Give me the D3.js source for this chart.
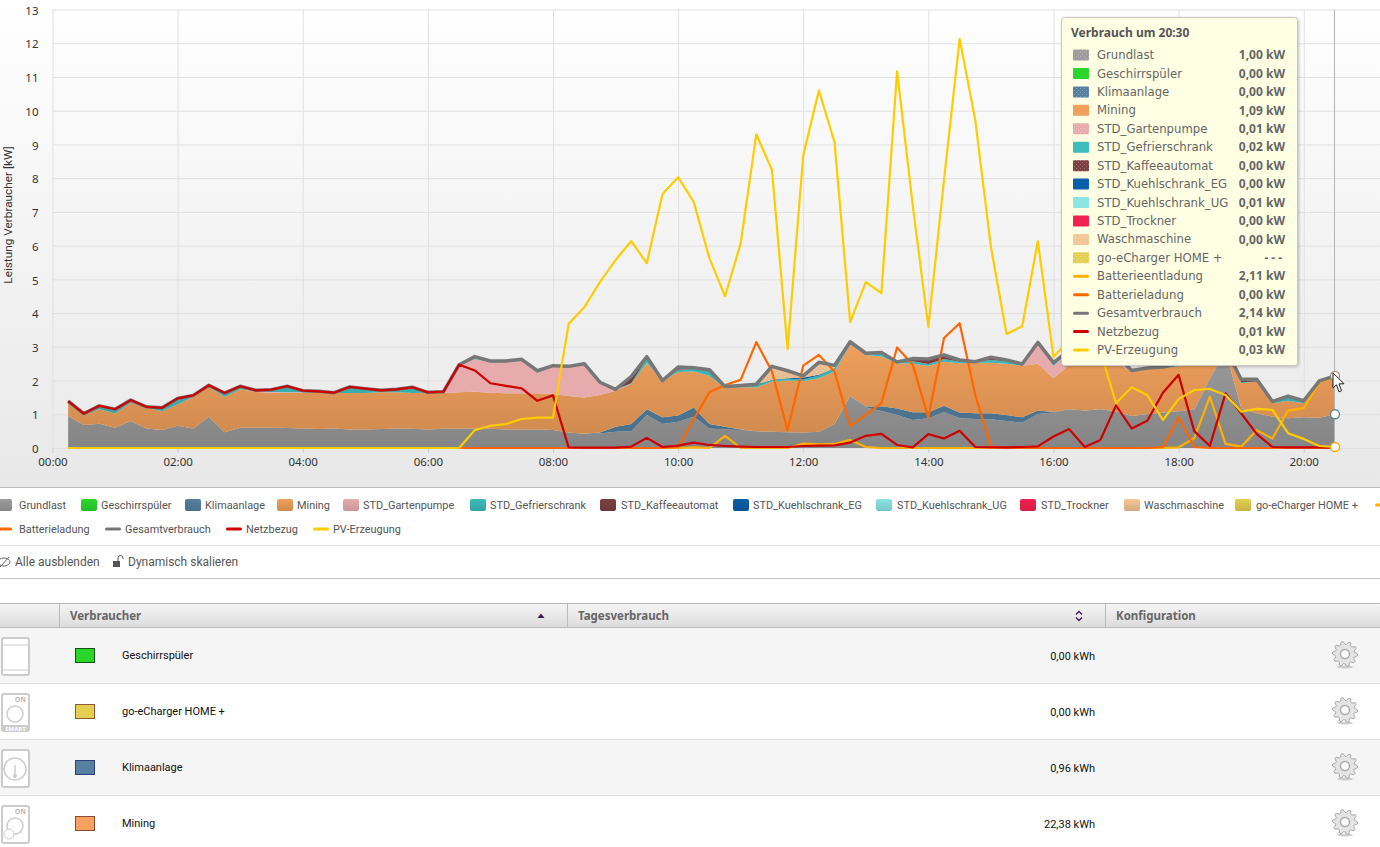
<!DOCTYPE html>
<html>
<head>
<meta charset="utf-8">
<title>Verbrauch</title>
<script src="https://cdn.jsdelivr.net/npm/d3@7"></script>
<style>
  html, body { margin: 0; padding: 0; background: #fff; overflow: hidden; }
  svg { display: block; }
  .ui { font-family: "Noto Sans", sans-serif; }
  .narrow { font-family: Roboto, sans-serif; }
  .tip { font-family: "DejaVu Sans", sans-serif; font-size: 11.7px; fill: #666; }
  .tip .strong { font-family: "Noto Sans", sans-serif; font-weight: bold; }
  .axis text { font-family: "Noto Sans", sans-serif; font-size: 11.5px; fill: #333; }
  .grid line { stroke: #e0e0e0; }
  .grid path { display: none; }
</style>
</head>
<body>
<div id="chart"></div>
<script>
// sample times, every quarter of an hour
const times = [
  "00:15","00:30","00:45","01:00","01:15","01:30","01:45","02:00","02:15","02:30",
  "02:45","03:00","03:15","03:30","03:45","04:00","04:15","04:30","04:45","05:00",
  "05:15","05:30","05:45","06:00","06:15","06:30","06:45","07:00","07:15","07:30",
  "07:45","08:00","08:15","08:30","08:45","09:00","09:15","09:30","09:45","10:00",
  "10:15","10:30","10:45","11:00","11:15","11:30","11:45","12:00","12:15","12:30",
  "12:45","13:00","13:15","13:30","13:45","14:00","14:15","14:30","14:45","15:00",
  "15:15","15:30","15:45","16:00","16:15","16:30","16:45","17:00","17:15","17:30",
  "17:45","18:00","18:15","18:30","18:45","19:00","19:15","19:30","19:45","20:00",
  "20:15","20:30"
];
const xTickLabels = ["00:00","02:00","04:00","06:00","08:00","10:00","12:00","14:00","16:00","18:00","20:00"];
const yTickValues = [0,1,2,3,4,5,6,7,8,9,10,11,12,13];

// stacked consumers, kW
const grundlast = [
  .95,.68,.72,.60,.80,.58,.53,.66,.58,.93,
  .47,.60,.60,.60,.59,.58,.56,.58,.55,.55,
  .56,.58,.57,.55,.57,.58,.58,.57,.55,.55,
  .55,.53,.46,.42,.43,.48,.50,.98,.71,.78,
  .93,.58,.55,.53,.50,.48,.47,.46,.48,.71,
  1.54,1.20,1.10,.98,.83,.88,1.07,.88,.86,.85,
  .80,.75,1.01,1.05,1.15,1.11,1.15,1.08,.95,1.01,
  1.05,1.09,1.11,2.03,2.90,1.18,1.03,.93,.88,.91,
  .90,1.00
];
const geschirrspueler = [
  0,0,0,0,0,0,0,0,0,0, 0,0,0,0,0,0,0,0,0,0, 0,0,0,0,0,0,0,0,0,0, 0,0,0,0,0,0,0,0,0,0,
  0,0,0,0,0,0,0,0,0,0, 0,0,0,0,0,0,0,0,0,0, 0,0,0,0,0,0,0,0,0,0, 0,0,0,0,0,0,0,0,0,0, 0,0
];
const klimaanlage = [
  0,0,0,0,0,0,0,0,0,0, 0,0,0,0,0,0,0,0,0,0, 0,0,0,0,0,0,0,0,0,0,
  0,0,0,0,.03,.15,.21,.17,.20,.18,
  .27,.13,.08,.02,0,0,0,0,0,0,
  0,.03,.14,.19,.23,.18,.18,.17,.17,.18,
  .18,.16,.10,.02,0,0,0,0,0,0,
  0,0,.03,.03,0,0,0,0,0,0,
  0,0
];
const mining = [
  .37,.29,.43,.42,.54,.61,.56,.64,.93,.88,
  1.04,1.14,1.06,1.04,1.04,1.05,1.07,1.05,1.08,1.08,
  1.09,1.07,1.06,1.09,1.06,1.07,1.09,1.07,1.07,1.07,
  1.07,1.07,1.08,1.08,1.11,1.07,1.19,1.38,1.08,1.29,
  1.07,1.43,1.14,1.25,1.30,1.49,1.53,1.53,1.59,1.56,
  1.52,1.53,1.47,1.34,1.44,1.38,1.31,1.46,1.50,1.50,
  1.52,1.53,1.39,1.00,1.32,1.39,1.40,1.47,1.30,1.34,
  1.32,1.33,1.42,.64,.02,.74,.94,.40,.52,.42,
  1.07,1.09
];
const gartenpumpe = [
  0,0,0,0,0,0,0,0,0,0,
  0,0,.02,.02,.02,.02,0,0,0,0,
  0,0,0,0,0,.78,.97,.90,.93,.96,
  .61,.82,.86,.97,.36,.02,0,0,0,0,
  0,0,0,0,0,0,0,0,0,0,
  0,0,0,0,0,0,0,0,0,0,
  0,0,.60,.36,.38,.10,.10,.10,0,0,
  0,0,0,0,0,0,0,0,0,0,
  0,.01
];
const gefrierschrank = [
  .07,.05,.10,.13,.08,.03,.10,.17,.05,.05,
  .12,.09,.03,.07,.18,.05,.05,.01,.18,.13,
  .06,.10,.17,.01,.04,.04,.07,.04,.03,.05,
  .06,.02,.02,.03,.02,.02,.02,.13,.01,.07,
  .07,.12,.05,.03,.07,.05,.05,.05,.08,.10,
  .07,.05,.12,.04,.07,.05,.08,.05,.03,.08,
  .07,.05,.03,.10,.05,.10,.10,.10,.05,.02,
  .03,.08,.04,.05,.03,.03,0,.05,.12,.07,
  .02,.02
];
const kaffeeautomat = [
  0,0,0,0,0,0,0,0,0,0, 0,0,0,0,0,0,0,0,0,0, 0,0,0,0,0,0,0,0,0,0,
  0,0,0,0,0,0,.20,.05,0,.08,
  .04,0,0,0,0,0,0,0,0,0,
  0,0,0,0,.08,.15,.07,0,0,.08,
  .04,0,0,0,0,0,0,0,0,0,
  0,0,0,0,0,.09,.07,0,0,0,
  0,0
];
const kuehlschrankEG = [
  0,0,0,0,0,0,0,0,0,0, 0,0,0,0,0,0,0,0,0,0, 0,0,0,0,0,0,0,0,0,0, 0,0,0,0,0,0,0,0,0,0,
  0,.06,0,.02,.02,0,.02,.05,.02,0,
  0,0,0,0,0,0,.05,.05,0,0,
  0,0,0,0,0,0,0,0,0,0,
  0,0,0,0,0,0,0,0,.02,0,
  0,0
];
const kuehlschrankUG = [
  0,0,0,0,0,0,0,0,0,0, 0,0,0,0,0,0,0,0,0,0, 0,0,0,0,0,0,0,0,0,0, 0,0,0,0,0,0,0,0,0,0,
  0,0,0,0,0,0,0,0,0,0, 0,0,0,0,0,0,0,0,0,0, 0,0,0,0,0,0,0,0,0,0, 0,0,0,0,0,0,0,0,0,0, 0,.01
];
const trockner = [
  0,0,0,0,0,0,0,0,0,0, 0,0,0,0,0,0,0,0,0,0, 0,0,0,0,0,0,0,0,0,0, 0,0,0,0,0,0,0,0,0,0,
  0,0,0,0,0,0,0,0,0,0, 0,0,0,0,0,0,0,0,0,0, 0,0,0,0,0,0,0,0,0,0, 0,0,0,0,0,0,0,0,0,0, 0,0
];
const waschmaschine = [
  0,0,0,0,0,0,0,0,0,0, 0,0,0,0,0,0,0,0,0,0, 0,0,0,0,0,0,0,0,0,0, 0,0,0,0,0,0,0,0,0,0,
  0,0,0,0,0,.40,.22,.05,.37,.08,
  .02,0,0,0,0,0,0,0,0,0,
  0,0,0,0,0,0,0,0,0,0, 0,0,0,0,0,0,0,0,0,0, 0,0
];
const goECharger = [
  0,0,0,0,0,0,0,0,0,0, 0,0,0,0,0,0,0,0,0,0, 0,0,0,0,0,0,0,0,0,0, 0,0,0,0,0,0,0,0,0,0,
  0,0,0,0,0,0,0,0,0,0, 0,0,0,0,0,0,0,0,0,0, 0,0,0,0,0,0,0,0,0,0, 0,0,0,0,0,0,0,0,0,0, 0,0
];

// line series, kW
const batterieentladung = [
  0,0,0,0,0,0,0,0,0,0, 0,0,0,0,0,0,0,0,0,0, 0,0,0,0,0,0,0,0,0,0, 0,0,0,0,0,0,0,0,0,0,
  .02,0,.36,0,0,0,0,.13,.11,.12,
  .24,.03,0,0,0,0,0,0,0,0,
  0,0,0,0,0,0,0,0,0,0,
  0,.02,.29,1.52,.12,.04,.53,.28,1.11,1.18,
  1.96,2.11
];
const batterieladung = [
  0,0,0,0,0,0,0,0,0,0, 0,0,0,0,0,0,0,0,0,0, 0,0,0,0,0,0,0,0,0,0, 0,0,0,0,0,0,0,0,0,.03,
  .85,1.65,1.87,2.02,3.14,2.27,.53,2.44,2.76,2.27,
  .65,.98,1.33,2.98,2.47,.90,3.26,3.70,1.57,.04,
  0,0,0,0,0,0,0,0,0,0,
  .03,.91,.03,0,0,0,0,0,0,0,
  0,0
];
const gesamtverbrauch = [
  1.39,1.02,1.25,1.15,1.42,1.22,1.19,1.47,1.56,1.86,
  1.63,1.83,1.71,1.73,1.83,1.70,1.68,1.64,1.81,1.76,
  1.71,1.74,1.80,1.65,1.67,2.47,2.71,2.58,2.58,2.63,
  2.29,2.44,2.42,2.50,1.95,1.74,2.12,2.71,2.00,2.40,
  2.38,2.32,1.82,1.85,1.89,2.42,2.29,2.14,2.54,2.45,
  3.15,2.81,2.83,2.55,2.65,2.64,2.76,2.61,2.56,2.69,
  2.61,2.49,3.13,2.53,2.90,2.70,2.75,2.75,2.30,2.37,
  2.40,2.50,2.60,2.75,2.95,2.04,2.04,1.38,1.54,1.40,
  1.99,2.14
];
const netzbezug = [
  1.39,1.02,1.25,1.15,1.42,1.22,1.19,1.47,1.56,1.86,
  1.63,1.83,1.71,1.73,1.83,1.70,1.68,1.64,1.81,1.76,
  1.71,1.74,1.80,1.65,1.67,2.47,2.30,1.92,1.84,1.77,
  1.40,1.56,.02,.01,.01,.01,.04,.30,.03,.07,
  .16,.09,.06,.04,.03,.03,.03,.06,.07,.08,
  .16,.36,.42,.09,.02,.41,.28,.51,.03,.02,
  .02,.03,.05,.34,.56,.03,.24,1.26,.58,.81,
  1.64,2.17,.50,.06,1.62,1.03,.41,.03,.02,.02,
  .02,.01
];
const pvErzeugung = [
  0,0,0,0,0,0,0,0,0,0, 0,0,0,0,0,0,0,0,0,0,
  0,0,0,0,0,0,.53,.66,.71,.86,
  .90,.90,3.68,4.17,4.92,5.57,6.13,5.48,7.53,8.03,
  7.29,5.63,4.50,6.07,9.30,8.24,2.93,8.68,10.60,9.07,
  3.73,4.92,4.59,11.17,7.20,3.59,7.94,12.13,9.72,5.96,
  3.38,3.61,6.13,2.70,3.20,3.50,2.88,1.33,1.80,1.57,
  .83,1.45,1.72,1.75,1.57,1.08,1.16,1.13,.44,.27,
  .06,.03
];

const areaNames = ["Grundlast","Geschirrspüler","Klimaanlage","Mining","STD_Gartenpumpe","STD_Gefrierschrank","STD_Kaffeeautomat","STD_Kuehlschrank_EG","STD_Kuehlschrank_UG","STD_Trockner","Waschmaschine","go-eCharger HOME +"];
const areaValues = [grundlast,geschirrspueler,klimaanlage,mining,gartenpumpe,gefrierschrank,kaffeeautomat,kuehlschrankEG,kuehlschrankUG,trockner,waschmaschine,goECharger];
const areaColors = ["#9c9c9c","#2bd62b","#56809f","#f0a05c","#e8abad","#3cbcbc","#7e3f42","#0b5ea8","#8ce4e4","#f2214f","#f6c594","#e5cf50"];
const lineNames = ["Batterieentladung","Batterieladung","Gesamtverbrauch","Netzbezug","PV-Erzeugung"];
const lineValues = [batterieentladung,batterieladung,gesamtverbrauch,netzbezug,pvErzeugung];
const lineColors = ["#ffb000","#ff6600","#777777","#cc0000","#ffcc00"];

const tooltipTitle = "Verbrauch um 20:30";
const tooltipValues = ["1,00 kW","0,00 kW","0,00 kW","1,09 kW","0,01 kW","0,02 kW","0,00 kW","0,00 kW","0,01 kW","0,00 kW","0,00 kW","---","2,11 kW","0,00 kW","2,14 kW","0,01 kW","0,03 kW"];

const tableNames = ["Geschirrspüler","go-eCharger HOME +","Klimaanlage","Mining"];
const tableValues = ["0,00 kWh","0,00 kWh","0,96 kWh","22,38 kWh"];
const tableFills = ["#2bd62b","#e5cf50","#56809f","#f6a25e"];
const tableBorders = ["#145214","#8a5a3a","#2a3f80","#8a4a3a"];
const tableHeaders = ["Verbraucher","Tagesverbrauch","Konfiguration"];

const WIDTH = 1380, HEIGHT = 847;
const MARGIN = { LEFT: 52.5, TOP: 9.5, BOTTOM: 399 };
const plotHeight = HEIGHT - MARGIN.TOP - MARGIN.BOTTOM;

const svg = d3.select("#chart").append("svg")
  .attr("width", WIDTH).attr("height", HEIGHT)
  .attr("viewBox", `0 0 ${WIDTH} ${HEIGHT}`);
const defs = svg.append("defs");

const toMinutes = (s) => +s.slice(0, 2) * 60 + +s.slice(3);
const x = d3.scaleLinear().domain([0, 1230]).range([MARGIN.LEFT, 1335]);
const y = d3.scaleLinear().domain([0, 13]).range([MARGIN.TOP + plotHeight, MARGIN.TOP]);

// chart background
const bgGrad = defs.append("linearGradient").attr("id", "bg").attr("x2", 0).attr("y2", 1);
bgGrad.append("stop").attr("offset", 0).attr("stop-color", "#ffffff");
bgGrad.append("stop").attr("offset", 1).attr("stop-color", "#e8e8e8");
svg.append("rect").attr("width", WIDTH).attr("height", 487).attr("fill", "url(#bg)");
svg.append("line").attr("x1", 0).attr("x2", WIDTH).attr("y1", 487.5).attr("y2", 487.5).attr("stroke", "#bbb");

// speckle used by some of the series
const dots = defs.append("pattern").attr("id", "dots")
  .attr("patternUnits", "userSpaceOnUse").attr("width", 4).attr("height", 4);
dots.append("rect").attr("width", 1).attr("height", 1).attr("fill", "#fff").attr("fill-opacity", 0.25);
dots.append("rect").attr("x", 2).attr("y", 2).attr("width", 1).attr("height", 1).attr("fill", "#fff").attr("fill-opacity", 0.25);
const dottedSeries = ["Grundlast","Klimaanlage","STD_Gartenpumpe","STD_Kaffeeautomat","Waschmaschine","go-eCharger HOME +"];

// gridlines and axes
const g = svg.append("g");
const xTicks = xTickLabels.map(toMinutes);
g.append("g").attr("class", "grid")
  .attr("transform", `translate(0,${y(0)})`)
  .call(d3.axisBottom(x).tickValues(xTicks).tickSize(-plotHeight).tickFormat(""));
g.append("g").attr("class", "grid")
  .attr("transform", `translate(${MARGIN.LEFT},0)`)
  .call(d3.axisLeft(y).tickValues(yTickValues).tickSize(-(WIDTH - MARGIN.LEFT)).tickFormat(""));

const xAxis = g.append("g").attr("class", "axis")
  .attr("transform", `translate(0,${y(0)})`)
  .call(d3.axisBottom(x).tickValues(xTicks).tickSize(5).tickPadding(5).tickFormat((d, i) => xTickLabels[i]));
xAxis.select(".domain").remove();
xAxis.selectAll("line").attr("stroke", "#c0d0e0");

const yAxis = g.append("g").attr("class", "axis")
  .attr("transform", `translate(${MARGIN.LEFT},1)`)
  .call(d3.axisLeft(y).tickValues(yTickValues).tickSize(0).tickPadding(14));
yAxis.select(".domain").remove();

svg.append("text").attr("class", "narrow")
  .attr("transform", "translate(12,215) rotate(-90)")
  .attr("text-anchor", "middle").attr("font-size", 11.8).attr("fill", "#333")
  .text("Leistung Verbraucher [kW]");

// stacked areas
const rows = times.map((t, i) => {
  const row = { minute: toMinutes(t) };
  areaNames.forEach((n, k) => { row[n] = areaValues[k][i]; });
  return row;
});
const stacked = d3.stack().keys(areaNames)(rows);
const area = d3.area()
  .x((d) => x(d.data.minute))
  .y0((d) => y(d[0]))
  .y1((d) => y(d[1]));

areaColors.forEach((c, i) => {
  const grad = defs.append("linearGradient").attr("id", `fill${i}`)
    .attr("gradientUnits", "userSpaceOnUse")
    .attr("x1", 0).attr("x2", 0).attr("y1", y(3.2)).attr("y2", y(0));
  grad.append("stop").attr("offset", 0).attr("stop-color", c);
  grad.append("stop").attr("offset", 1).attr("stop-color", d3.color(c).darker(0.45));
  const swatch = defs.append("linearGradient").attr("id", `swatch${i}`).attr("x2", 0).attr("y2", 1);
  swatch.append("stop").attr("offset", 0).attr("stop-color", c);
  swatch.append("stop").attr("offset", 1).attr("stop-color", d3.color(c).darker(0.4));
});

const drawnAreas = stacked.filter((s, i) => d3.sum(areaValues[i]) > 0);
g.append("g").selectAll("path")
  .data(drawnAreas)
  .enter().append("path")
  .attr("d", area)
  .attr("fill", (s) => (s.key === "STD_Gartenpumpe" ? areaColors[s.index] : `url(#fill${s.index})`));
g.append("g").selectAll("path")
  .data(drawnAreas.filter((s) => s.key === "Waschmaschine"))
  .enter().append("path")
  .attr("d", area)
  .attr("fill", "url(#dots)");

// lines on top of the areas
const line = d3.line().x((d, i) => x(toMinutes(times[i]))).y((d) => y(d));
g.append("g").attr("fill", "none").selectAll("path")
  .data(lineValues)
  .enter().append("path")
  .attr("d", line)
  .attr("stroke", (d, i) => lineColors[i])
  .attr("stroke-width", (d, i) => (i === 2 ? 3.5 : 2.2))
  .attr("stroke-linejoin", "round");

// crosshair at the last sample with its markers
const lastMinute = toMinutes(times[times.length - 1]);
const last = times.length - 1;
g.append("line")
  .attr("x1", x(lastMinute) - 0.5).attr("x2", x(lastMinute) - 0.5)
  .attr("y1", y(13)).attr("y2", y(0))
  .attr("stroke", "#b4b4b4");
const markers = [
  { v: gesamtverbrauch[last], c: "#a08878" },
  { v: grundlast[last], c: "#5a8090" },
  { v: pvErzeugung[last], c: "#ffa500" },
];
g.append("g").selectAll("circle").data(markers).enter().append("circle")
  .attr("cx", x(lastMinute)).attr("cy", (d) => y(d.v)).attr("r", 4.5)
  .attr("fill", "#fff").attr("stroke", (d) => d.c).attr("stroke-width", 1.3);

// mouse pointer
g.append("path")
  .attr("transform", `translate(${x(lastMinute) - 2},${y(gesamtverbrauch[last]) - 3})`)
  .attr("d", "M0,0 L0,15 L3.5,12 L6,19 L8.5,18 L6,11 L11,11 Z")
  .attr("fill", "#fff").attr("stroke", "#222").attr("stroke-width", 1);

// legend below the chart
const legendSlots = [
  { x: -4, tx: 19, row: 0 }, { x: 81, tx: 101, row: 0 }, { x: 185, tx: 205, row: 0 }, { x: 277, tx: 297, row: 0 },
  { x: 343, tx: 363, row: 0 }, { x: 470, tx: 490, row: 0 }, { x: 600, tx: 621, row: 0 }, { x: 733, tx: 753, row: 0 },
  { x: 876, tx: 897, row: 0 }, { x: 1020, tx: 1041, row: 0 }, { x: 1124, tx: 1144, row: 0 }, { x: 1235, tx: 1256, row: 0 },
];
const lineSlots = [
  { x: 1375, tx: null, row: 0 }, { x: -4, tx: 19, row: 1 }, { x: 105, tx: 125, row: 1 }, { x: 226, tx: 246, row: 1 }, { x: 313, tx: 333, row: 1 },
];
const legendY = [505, 529];
const legend = svg.append("g").attr("class", "narrow").attr("font-size", 10.9).attr("fill", "#555");
areaNames.forEach((n, i) => {
  const s = legendSlots[i];
  legend.append("rect").attr("x", s.x).attr("y", legendY[s.row] - 6).attr("width", 16).attr("height", 12)
    .attr("rx", 2).attr("fill", `url(#swatch${i})`);
  legend.append("text").attr("x", s.tx).attr("y", legendY[s.row]).attr("dy", "0.35em").text(n);
});
lineNames.forEach((n, i) => {
  const s = lineSlots[i];
  legend.append("rect").attr("x", s.x).attr("y", legendY[s.row] - 1.5).attr("width", 16).attr("height", 3)
    .attr("rx", 1.5).attr("fill", lineColors[i]);
  // the first line entry runs off the right edge of the page, only its key shows
  if (s.tx !== null) {
    legend.append("text").attr("x", s.tx).attr("y", legendY[s.row]).attr("dy", "0.35em").text(n);
  }
});

// tooltip
const tipShadow = defs.append("filter").attr("id", "tipShadow");
tipShadow.append("feDropShadow").attr("dx", 1).attr("dy", 1).attr("stdDeviation", 1.5).attr("flood-color", "#000").attr("flood-opacity", 0.25);
const tip = svg.append("g").attr("class", "tip");
tip.append("rect").attr("x", 1061.5).attr("y", 17.5).attr("width", 236).attr("height", 348)
  .attr("rx", 3).attr("fill", "#ffffe3").attr("stroke", "#c8c8c8").attr("filter", "url(#tipShadow)");
tip.append("text").attr("class", "strong").attr("x", 1071).attr("y", 33).attr("dy", "0.35em")
  .attr("font-size", 12).attr("fill", "#555").text(tooltipTitle);
const tipNames = areaNames.concat(lineNames);
const tipColors = areaColors.concat(lineColors);
const tipY = d3.scaleLinear().domain([0, 16]).range([55, 350]);
tipNames.forEach((n, i) => {
  const isArea = i < areaNames.length;
  tip.append("rect").attr("x", 1073).attr("y", tipY(i) - (isArea ? 5.5 : 1.5))
    .attr("width", 16).attr("height", isArea ? 11 : 3).attr("rx", isArea ? 1 : 1.5)
    .attr("fill", tipColors[i]);
  if (dottedSeries.includes(n)) {
    tip.append("rect").attr("x", 1073).attr("y", tipY(i) - 5.5)
      .attr("width", 16).attr("height", 11).attr("fill", "url(#dots)");
  }
  tip.append("text").attr("x", 1097).attr("y", tipY(i)).attr("dy", "0.35em").text(n);
  tip.append("text").attr("class", "strong").attr("x", 1285).attr("y", tipY(i)).attr("dy", "0.35em")
    .attr("text-anchor", "end").attr("font-size", 12)
    .attr("letter-spacing", tooltipValues[i] === "---" ? 3 : 0)
    .text(tooltipValues[i]);
});

// controls row
svg.append("line").attr("x1", 0).attr("x2", WIDTH).attr("y1", 545.5).attr("y2", 545.5).attr("stroke", "#ddd");
svg.append("line").attr("x1", 0).attr("x2", WIDTH).attr("y1", 578.5).attr("y2", 578.5).attr("stroke", "#c4c4c4");
const controls = svg.append("g").attr("class", "narrow").attr("font-size", 12).attr("fill", "#555");
controls.append("text").attr("x", 15).attr("y", 562).attr("dy", "0.35em").text("Alle ausblenden");
controls.append("text").attr("x", 128).attr("y", 562).attr("dy", "0.35em").text("Dynamisch skalieren");
controls.append("ellipse").attr("cx", 4).attr("cy", 562).attr("rx", 6).attr("ry", 4)
  .attr("fill", "none").attr("stroke", "#666");
controls.append("line").attr("x1", 0).attr("y1", 567).attr("x2", 9).attr("y2", 557).attr("stroke", "#666");
controls.append("rect").attr("x", 113).attr("y", 561).attr("width", 7).attr("height", 6).attr("fill", "#555");
controls.append("path").attr("d", "M118,561 v-3 a2.5,2.5 0 0 1 5,0 v1").attr("fill", "none").attr("stroke", "#555");

// table header
const headGrad = defs.append("linearGradient").attr("id", "head").attr("x2", 0).attr("y2", 1);
headGrad.append("stop").attr("offset", 0).attr("stop-color", "#f6f6f6");
headGrad.append("stop").attr("offset", 1).attr("stop-color", "#dcdcdc");
svg.append("rect").attr("y", 603).attr("width", WIDTH).attr("height", 24).attr("fill", "url(#head)");
svg.append("line").attr("x1", 0).attr("x2", WIDTH).attr("y1", 603.5).attr("y2", 603.5).attr("stroke", "#bbb");
svg.append("line").attr("x1", 0).attr("x2", WIDTH).attr("y1", 627.5).attr("y2", 627.5).attr("stroke", "#bbb");
[59.5, 567.5, 1105.5].forEach((cx, i) => {
  svg.append("line").attr("x1", cx).attr("x2", cx).attr("y1", 604).attr("y2", 627).attr("stroke", "#bbb");
  svg.append("text").attr("class", "ui").attr("x", cx + 10.5).attr("y", 616).attr("dy", "0.35em")
    .attr("font-size", 11.5).attr("font-weight", "bold").attr("fill", "#666").text(tableHeaders[i]);
});
svg.append("path").attr("d", "M537.5,618 L541,613.5 L544.5,618 Z").attr("fill", "#3a1a50");
svg.append("path").attr("d", "M1076,614.5 L1079,611.5 L1082,614.5 M1076,617.5 L1079,620.5 L1082,617.5")
  .attr("fill", "none").attr("stroke", "#3a1a50").attr("stroke-width", 1.3);

// table rows
const rowTops = [628, 684, 740, 796];
const gearPath = (r) => {
  const teeth = 10, pts = [];
  d3.range(teeth * 4).forEach((k) => {
    const a = (k / (teeth * 4)) * 2 * Math.PI;
    const rad = k % 4 < 2 ? r : r * 0.78;
    pts.push([rad * Math.cos(a), rad * Math.sin(a)]);
  });
  return d3.line()(pts) + "Z";
};
const deviceIcon = (sel, i) => {
  sel.append("rect").attr("x", 2).attr("y", 10).attr("width", 27).attr("height", 37).attr("rx", 2)
    .attr("fill", "#fff").attr("stroke", "#ccc").attr("stroke-width", 2);
  if (i === 0) {
    sel.append("line").attr("x1", 3).attr("x2", 28).attr("y1", 17).attr("y2", 17).attr("stroke", "#ccc");
    sel.append("line").attr("x1", 3).attr("x2", 28).attr("y1", 42).attr("y2", 42).attr("stroke", "#ccc");
    return;
  }
  if (i === 1 || i === 3) {
    sel.append("text").attr("class", "ui").attr("x", 26).attr("y", 18).attr("text-anchor", "end")
      .attr("font-size", 7).attr("font-weight", "bold").attr("fill", "#bbb").text("ON");
  }
  sel.append("circle").attr("cx", 15).attr("cy", i === 2 ? 29 : 30).attr("r", i === 2 ? 11 : 8)
    .attr("fill", "none").attr("stroke", "#ccc").attr("stroke-width", 1.5);
  if (i === 1) {
    sel.append("rect").attr("x", 2).attr("y", 41).attr("width", 27).attr("height", 6).attr("fill", "#ccc");
    sel.append("text").attr("class", "ui").attr("x", 15.5).attr("y", 46.5).attr("text-anchor", "middle")
      .attr("font-size", 6).attr("font-weight", "bold").attr("fill", "#fff").text("SMART");
  }
  if (i === 2) {
    sel.append("circle").attr("cx", 15).attr("cy", 36).attr("r", 2).attr("fill", "#ccc");
    sel.append("line").attr("x1", 15).attr("x2", 15).attr("y1", 25).attr("y2", 36).attr("stroke", "#ccc").attr("stroke-width", 1.5);
  }
  if (i === 3) {
    sel.append("circle").attr("cx", 9).attr("cy", 38).attr("r", 5).attr("fill", "#fff").attr("stroke", "#ccc");
  }
};

tableNames.forEach((n, i) => {
  const row = svg.append("g").attr("transform", `translate(0,${rowTops[i]})`);
  row.append("rect").attr("width", WIDTH).attr("height", 55).attr("fill", i % 2 === 0 ? "#f5f5f5" : "#fff");
  row.append("line").attr("x1", 0).attr("x2", WIDTH).attr("y1", 55.5).attr("y2", 55.5).attr("stroke", "#ddd");
  deviceIcon(row, i);
  row.append("rect").attr("x", 75.5).attr("y", 20.5).attr("width", 19).attr("height", 14)
    .attr("fill", tableFills[i]).attr("stroke", tableBorders[i]);
  row.append("text").attr("class", "narrow").attr("x", 122).attr("y", 27.5).attr("dy", "0.35em")
    .attr("font-size", 11).attr("fill", "#111").text(n);
  row.append("text").attr("class", "narrow").attr("x", 1095).attr("y", 28).attr("dy", "0.35em")
    .attr("text-anchor", "end").attr("font-size", 11).attr("fill", "#111").text(tableValues[i]);
  const gear = row.append("g").attr("transform", "translate(1345,26)");
  gear.append("ellipse").attr("cy", 13).attr("rx", 8).attr("ry", 1.5).attr("fill", "#ccc");
  gear.append("path").attr("d", gearPath(12.5)).attr("fill", "#e4e4e4").attr("stroke", "#aaa");
  gear.append("circle").attr("r", 4.5).attr("fill", "#fff").attr("stroke", "#aaa").attr("stroke-width", 1.5);
});
</script>
</body>
</html>
